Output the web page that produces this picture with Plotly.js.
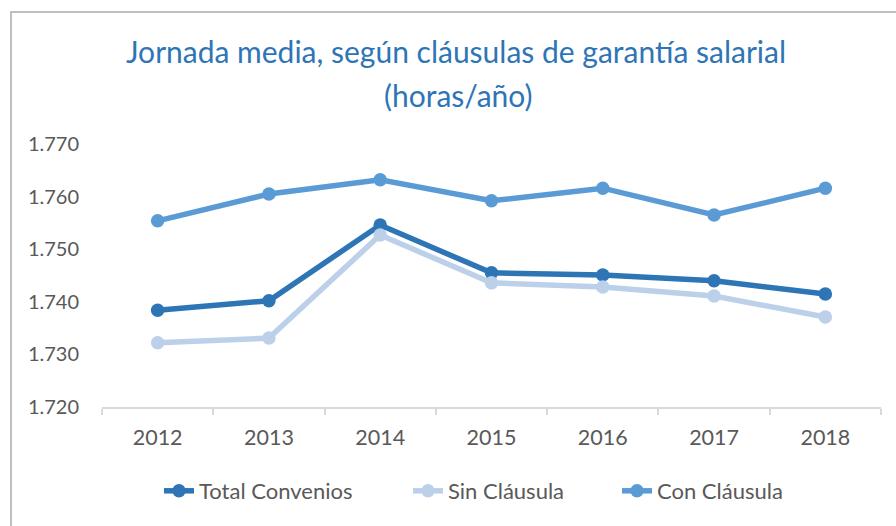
<!DOCTYPE html>
<html>
<head>
<meta charset="utf-8">
<script src="https://cdn.plot.ly/plotly-3.0.1.min.js"></script>
<style>
html,body{margin:0;padding:0;background:#fff;}
#chart{width:896px;height:526px;}
</style>
</head>
<body>
<div id="chart"></div>
<script>
const years = ['2012','2013','2014','2015','2016','2017','2018'];
const totalConvenios = [1738.4, 1740.2, 1754.6, 1745.5, 1745.1, 1744.0, 1741.5];
const sinClausula = [1732.2, 1733.1, 1752.7, 1743.6, 1742.8, 1741.1, 1737.1];
const conClausula = [1755.4, 1760.5, 1763.2, 1759.2, 1761.6, 1756.5, 1761.6];
const yTicks = [1720, 1730, 1740, 1750, 1760, 1770];

const FONT = 'Lato, "Open Sans", sans-serif';
const TXT = '#595959';

function series(name, y, color, legendId) {
  return {
    type: 'scatter', mode: 'lines+markers', name: name,
    x: years, y: y, legend: legendId,
    line: {color: color, width: 5.5},
    marker: {color: color, size: 13.5}
  };
}

const data = [
  series('Total Convenios', totalConvenios, '#2E75B6', 'legend'),
  series('Sin Cláusula', sinClausula, '#BDD0E9', 'legend2'),
  series('Con Cláusula', conClausula, '#5B9BD5', 'legend3')
];

function legendAt(px) {
  return {
    orientation: 'h',
    xref: 'container', yref: 'container',
    x: px/896, xanchor: 'left',
    y: 1 - 491/526, yanchor: 'middle',
    font: {family: FONT, size: 22, color: TXT},
    bgcolor: 'rgba(0,0,0,0)'
  };
}

const layout = {
  width: 896, height: 526,
  paper_bgcolor: '#fff', plot_bgcolor: '#fff',
  separators: ',.',
  margin: {l: 102, r: 15, t: 144, b: 119, autoexpand: false},
  font: {family: FONT, color: TXT, size: 20},
  title: {
    text: 'Jornada media, según cláusulas de garantía salarial',
    font: {family: FONT, size: 30, color: '#2E75B6'},
    x: 456/896, xref: 'container', xanchor: 'center',
    y: 1 - 52/526, yref: 'container', yanchor: 'middle'
  },
  annotations: [{
    text: '(horas/año)', showarrow: false,
    xref: 'paper', x: (458 - 102) / 779, xanchor: 'center',
    yref: 'paper', y: (407 - 95) / (407 - 144), yanchor: 'middle',
    font: {family: FONT, size: 30, color: '#2E75B6'}
  }],
  xaxis: {
    type: 'category', automargin: false,
    range: [-0.5, years.length - 0.5],
    showgrid: false, zeroline: false,
    showline: true, linecolor: '#D9D9D9', linewidth: 1.5,
    ticks: 'outside', tickson: 'boundaries', ticklen: 6, tickcolor: '#D9D9D9', tickwidth: 1.5,
    tickfont: {family: FONT, size: 21.5, color: TXT},
    ticklabelstandoff: 10
  },
  yaxis: {
    range: [1720, 1770], automargin: false,
    tickvals: yTicks, tickformat: ',d',
    showgrid: false, zeroline: false, showline: false,
    ticks: '',
    tickfont: {family: FONT, size: 20, color: TXT},
    ticklabelstandoff: 22
  },
  showlegend: true,
  legend: legendAt(159),
  legend2: legendAt(408),
  legend3: legendAt(617),
  shapes: [
    {type: 'line', xref: 'paper', yref: 'paper', x0: -92/779, x1: 1.05, y0: (407-12)/263, y1: (407-12)/263,
     line: {color: '#BFBFBF', width: 2}},
    {type: 'line', xref: 'paper', yref: 'paper', x0: -91/779, x1: -91/779, y0: (407-12)/263, y1: -119/263,
     line: {color: '#BFBFBF', width: 2}}
  ]
};

Plotly.newPlot('chart', data, layout, {displayModeBar: false, responsive: false});
</script>
</body>
</html>
